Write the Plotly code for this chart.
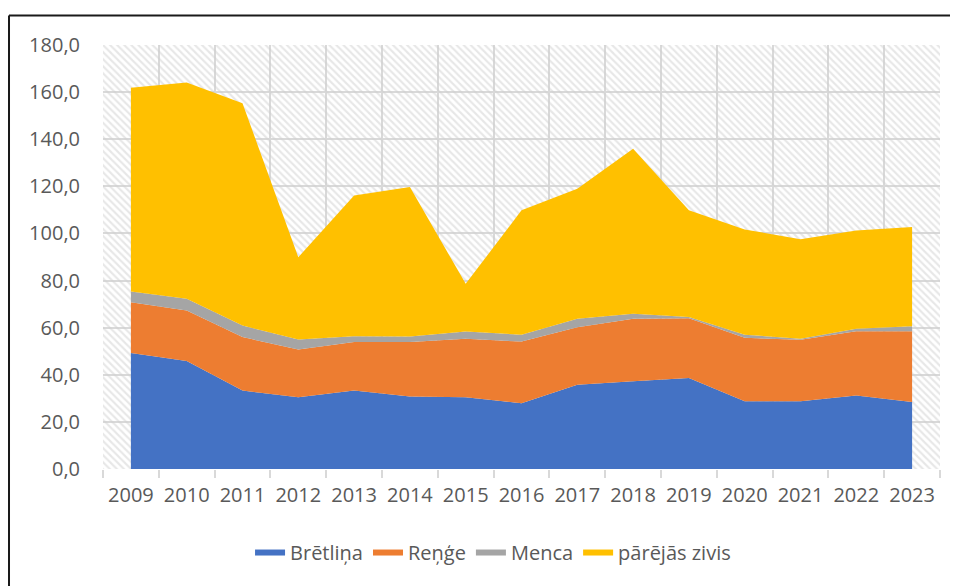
import plotly.graph_objects as go

YEARS = [2009, 2010, 2011, 2012, 2013, 2014, 2015, 2016, 2017, 2018, 2019, 2020, 2021, 2022, 2023]
BRETLINA = [49.2, 45.8, 33.3, 30.5, 33.3, 30.8, 30.5, 27.9, 35.8, 37.2, 38.6, 28.8, 28.8, 31.2, 28.4]
RENGE = [21.6, 21.5, 22.7, 20.2, 20.6, 23.1, 24.8, 26.2, 24.4, 26.6, 25.4, 26.9, 26.1, 27.3, 30.1]
MENCA = [4.6, 5.0, 4.9, 4.3, 2.5, 2.4, 3.1, 2.9, 3.6, 2.1, 0.5, 1.3, 0.4, 1.0, 2.1]
PAREJAS = [86.5, 91.8, 94.4, 34.9, 59.7, 63.4, 20.2, 52.8, 55.2, 70.1, 45.3, 44.7, 42.2, 41.8, 42.1]

SERIES = [
    ("Brētliņa", BRETLINA, "#4472C4"),
    ("Reņģe", RENGE, "#ED7D31"),
    ("Menca", MENCA, "#A5A5A5"),
    ("pārējās zivis", PAREJAS, "#FFC000"),
]

Y_MIN, Y_MAX, Y_STEP = 0, 180, 20
X_MIN, X_MAX = YEARS[0] - 0.5, YEARS[-1] + 0.5

FONT = "Open Sans"
TXT = "#595959"
GRID = "#D9D9D9"

fig = go.Figure()

# hatched plot background
fig.add_trace(go.Scatter(
    x=[X_MIN, X_MAX, X_MAX, X_MIN, X_MIN],
    y=[Y_MIN, Y_MIN, Y_MAX, Y_MAX, Y_MIN],
    fill="toself", mode="none", fillcolor="rgba(0,0,0,0)",
    fillpattern=dict(shape="\\", fgcolor="#D0D0D0", bgcolor="rgba(0,0,0,0)", size=5, solidity=0.42),
    showlegend=False, hoverinfo="skip",
))

for name, vals, color in SERIES:
    fig.add_trace(go.Scatter(
        x=YEARS, y=vals, name=name, stackgroup="one", mode="none",
        fillcolor=color, line=dict(width=0),
    ))

BORDER = dict(color="#1a1a1a", width=2)
fig.update_layout(
    width=950, height=578,
    margin=dict(l=95, r=18, t=37, b=117),
    paper_bgcolor="white", plot_bgcolor="white",
    separators=", ",
    font=dict(family=FONT, size=20, color=TXT),
    showlegend=True,
    legend=dict(orientation="h", x=0.466, xanchor="center", y=-0.197, yanchor="middle",
                font=dict(family=FONT, size=20, color=TXT), itemwidth=30,
                traceorder="normal"),
    xaxis=dict(range=[X_MIN, X_MAX], tickvals=YEARS, ticktext=[str(y) for y in YEARS],
               showgrid=False, zeroline=False, showline=False, ticks="",
               ticklabelstandoff=12,
               minor=dict(tick0=X_MIN, dtick=1, showgrid=True, gridcolor=GRID, gridwidth=1.5,
                          ticks="outside", ticklen=8, tickcolor=GRID, tickwidth=1.5)),
    yaxis=dict(range=[Y_MIN, Y_MAX], dtick=Y_STEP, tick0=0, tickformat=".1f",
               showgrid=True, gridcolor=GRID, gridwidth=1.5, zeroline=False, showline=False,
               ticks="", ticklabelstandoff=22),
    shapes=[
        dict(type="line", xref="paper", yref="paper", x0=-0.1123, x1=1.2, y0=1.0698, y1=1.0698,
             line=BORDER, layer="below"),
        dict(type="line", xref="paper", yref="paper", x0=-0.1123, x1=-0.1123, y0=-0.4, y1=1.0698,
             line=BORDER, layer="below"),
    ],
)

fig.write_html("out.html")
